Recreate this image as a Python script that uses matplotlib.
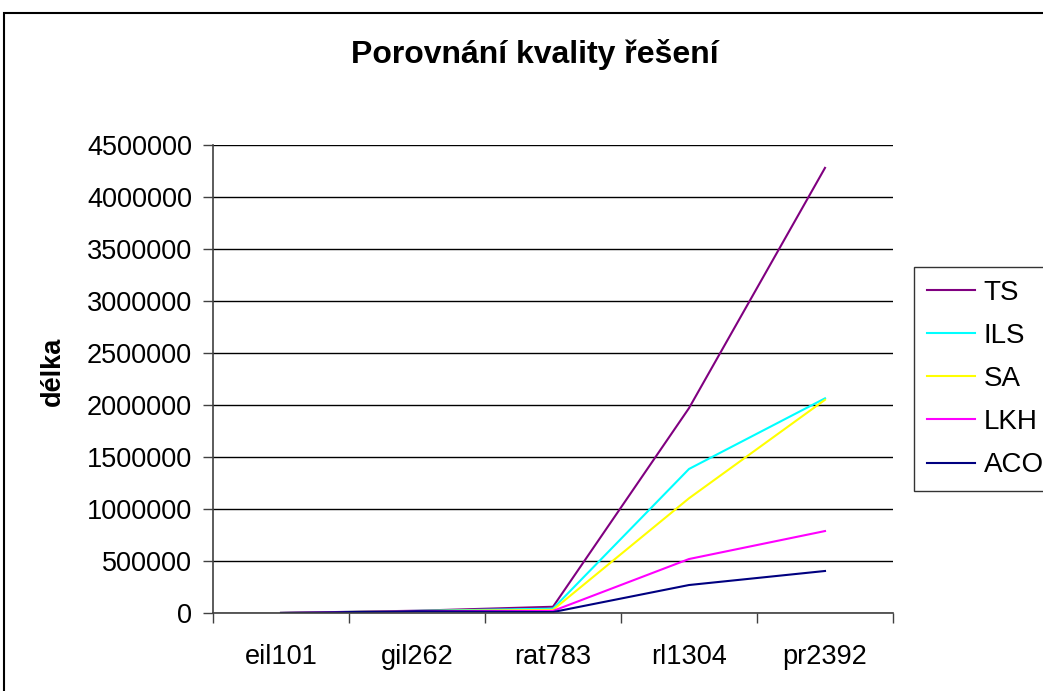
import matplotlib
matplotlib.use("Agg")
import matplotlib.pyplot as plt
from matplotlib.patches import Rectangle

# data
instances = ["eil101", "gil262", "rat783", "rl1304", "pr2392"]
ts = [700, 22000, 60000, 1970000, 4280000]
ils = [650, 20000, 42000, 1385000, 2064000]
sa = [640, 19000, 30000, 1103000, 2050000]
lkh = [630, 18000, 20000, 519000, 788000]
aco = [620, 17000, 9000, 269000, 404000]

series = [("TS", ts, "#800080"), ("ILS", ils, "#00FFFF"), ("SA", sa, "#FFFF00"),
          ("LKH", lkh, "#FF00FF"), ("ACO", aco, "#000080")]

plt.rcParams["font.family"] = ["Liberation Sans", "DejaVu Sans"]

W, H = 1043, 691
fig = plt.figure(figsize=(W / 100, H / 100), dpi=100)
ax = fig.add_axes([213 / W, 1 - 613 / H, (893 - 213) / W, (613 - 145) / H])

x = list(range(len(instances)))
for name, vals, col in series:
    ax.plot(x, vals, color=col, lw=1.5, label=name)

ax.set_xlim(-0.5, len(instances) - 0.5)
ax.set_ylim(0, 4500000)
ax.set_yticks(range(0, 4500001, 500000))
ax.set_yticklabels([str(v) for v in range(0, 4500001, 500000)], fontsize=19.5)
ax.set_xticks(x)
ax.set_xticklabels(instances, fontsize=19.5)
ax.set_xticks([i - 0.5 for i in range(len(instances) + 1)], minor=True)
ax.tick_params(axis="x", which="major", length=0, pad=22)
ax.tick_params(axis="x", which="minor", length=7, width=1, color="#404040")
ax.tick_params(axis="y", length=7, width=1, color="#404040", pad=8)
ax.yaxis.grid(True, color="black", lw=1)
ax.set_axisbelow(True)
for s in ["top", "right"]:
    ax.spines[s].set_visible(False)
for s in ["left", "bottom"]:
    ax.spines[s].set_color("#404040")
    ax.spines[s].set_linewidth(1.2)

fig.text(535 / W, 1 - 54 / H, "Porovnání kvality řešení", fontsize=23,
         fontweight="bold", ha="center", va="center")
fig.text(53 / W, 1 - 371 / H, "délka", fontsize=19.5, fontweight="bold",
         rotation=90, ha="center", va="center")

leg = ax.legend(loc="upper left", bbox_to_anchor=(914 / W, 1 - 267 / H),
                bbox_transform=fig.transFigure, fontsize=20, frameon=True,
                fancybox=False, handlelength=1.75, handletextpad=0.3,
                labelspacing=0.62, borderpad=0.45, borderaxespad=0)
leg.get_frame().set_edgecolor("black")
leg.get_frame().set_linewidth(1)

fig.patches.append(Rectangle((4 / W, -0.1), 1.2, 1.1 - 13 / H,
                             transform=fig.transFigure, fill=False,
                             edgecolor="black", lw=1.5))

fig.savefig("out.png", dpi=100)
